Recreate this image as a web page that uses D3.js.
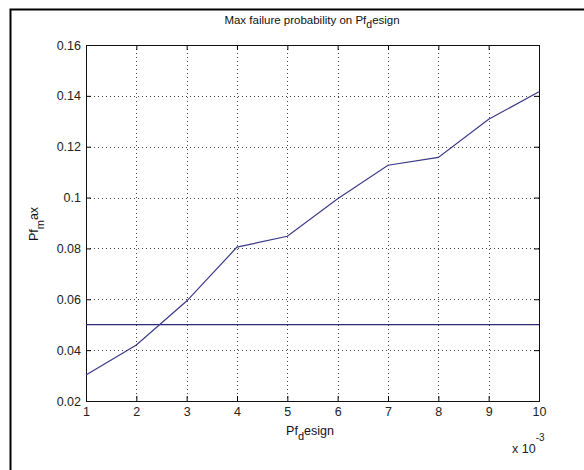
<!DOCTYPE html>
<html>
<head>
<meta charset="utf-8">
<script src="https://cdn.jsdelivr.net/npm/d3@7"></script>
<style>
html,body{margin:0;padding:0;background:#fff;}
svg{display:block;font-family:"Liberation Sans",Arial,sans-serif;}
</style>
</head>
<body>
<svg id="chart" width="584" height="470"></svg>
<script>
const xValues = [1, 2, 3, 4, 5, 6, 7, 8, 9, 10];
const pfMax = [0.0302, 0.0420, 0.0593, 0.0805, 0.0848, 0.0995, 0.1127, 0.1158, 0.1308, 0.1416];
const threshold = [0.05];
const xTicks = [1, 2, 3, 4, 5, 6, 7, 8, 9, 10];
const yTicks = [0.02, 0.04, 0.06, 0.08, 0.1, 0.12, 0.14, 0.16];

(function () {
const svg = d3.select("#chart");
const W = 584, H = 470;
const pL = 86, pR = 539, pT = 45, pB = 401;

svg.append("rect").attr("x", 0).attr("y", 0).attr("width", W).attr("height", H).attr("fill", "#fff");
// outer frame
svg.append("rect").attr("x", 10.5).attr("y", 9.5).attr("width", 600).attr("height", 500)
  .attr("fill", "none").attr("stroke", "#000").attr("stroke-width", 2);

const x = d3.scaleLinear().domain([1, 10]).range([pL, pR]);
const y = d3.scaleLinear().domain([0.02, 0.16]).range([pB, pT]);

const grid = svg.append("g");
grid.selectAll("line.vg").data(xTicks.slice(1, -1)).join("line")
  .attr("x1", d => Math.round(x(d)) + 0.5).attr("x2", d => Math.round(x(d)) + 0.5)
  .attr("y1", pT).attr("y2", pB)
  .attr("stroke", "#444").attr("stroke-width", 1).attr("stroke-dasharray", "1,3");
grid.selectAll("line.hg").data(yTicks.slice(1, -1)).join("line")
  .attr("y1", d => Math.round(y(d)) + 0.5).attr("y2", d => Math.round(y(d)) + 0.5)
  .attr("x1", pL).attr("x2", pR)
  .attr("stroke", "#444").attr("stroke-width", 1).attr("stroke-dasharray", "1,3");

const xAxisB = d3.axisBottom(x).tickValues(xTicks).tickSize(-5).tickPadding(6).tickFormat(d3.format("d"));
const xAxisT = d3.axisTop(x).tickValues(xTicks).tickSize(-5).tickFormat("");
const yAxisL = d3.axisLeft(y).tickValues(yTicks).tickSize(-5).tickPadding(5).tickFormat(d => String(+d.toFixed(2)));
const yAxisR = d3.axisRight(y).tickValues(yTicks).tickSize(-5).tickFormat("");

function style(g) {
  g.select(".domain").remove();
  g.selectAll(".tick line").attr("stroke", "#000");
  g.selectAll(".tick text").attr("fill", "#222").attr("font-size", 12.5)
    .attr("font-family", "'Liberation Sans',Arial,sans-serif");
}
svg.append("g").attr("transform", `translate(0,${pB})`).call(xAxisB).call(style);
svg.append("g").attr("transform", `translate(0,${pT})`).call(xAxisT).call(style);
svg.append("g").attr("transform", `translate(${pL},0)`).call(yAxisL).call(style);
svg.append("g").attr("transform", `translate(${pR},0)`).call(yAxisR).call(style);

svg.append("rect").attr("x", pL + 0.5).attr("y", pT + 0.5)
  .attr("width", pR - pL).attr("height", pB - pT)
  .attr("fill", "none").attr("stroke", "#111").attr("stroke-width", 1);

svg.selectAll("line.thr").data(threshold).join("line")
  .attr("x1", pL).attr("x2", pR)
  .attr("y1", d => y(d)).attr("y2", d => y(d))
  .attr("stroke", "#2a2a78").attr("stroke-width", 1.2);

const line = d3.line().x((d, i) => x(xValues[i])).y(d => y(d));
svg.append("path").datum(pfMax).attr("d", line)
  .attr("fill", "none").attr("stroke", "#3a3a88").attr("stroke-width", 1.2);

const t = svg.append("text").attr("x", 312).attr("y", 24).attr("text-anchor", "middle")
  .attr("font-size", 11.5).attr("fill", "#111");
t.append("tspan").text("Max failure probability on Pf");
t.append("tspan").attr("dy", 4).attr("font-size", 10.5).text("d");
t.append("tspan").attr("dy", -4).text("esign");

const xl = svg.append("text").attr("x", 310).attr("y", 435).attr("text-anchor", "middle")
  .attr("font-size", 12.5).attr("fill", "#111");
xl.append("tspan").text("Pf");
xl.append("tspan").attr("dy", 5).attr("font-size", 11).text("d");
xl.append("tspan").attr("dy", -5).text("esign");

const ex = svg.append("text").attr("x", 512).attr("y", 453).attr("font-size", 12.5).attr("fill", "#222");
ex.append("tspan").text("x 10");
ex.append("tspan").attr("dy", -12).attr("font-size", 10).text("-3");

const yl = svg.append("text").attr("transform", "translate(38,224) rotate(-90)")
  .attr("text-anchor", "middle").attr("font-size", 12.5).attr("fill", "#111");
yl.append("tspan").text("Pf");
yl.append("tspan").attr("dy", 6).attr("font-size", 11).text("m");
yl.append("tspan").attr("dy", -6).text("ax");
})();
</script>
</body>
</html>
